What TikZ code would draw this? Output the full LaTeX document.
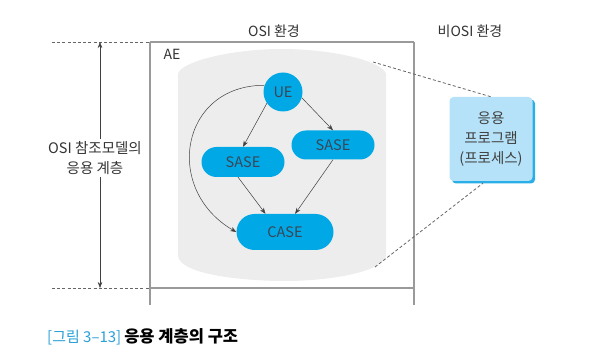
\documentclass[tikz,border=0pt]{standalone}
\usepackage{fontspec}
\setmainfont{Noto Sans CJK KR}
\usetikzlibrary{arrows.meta,shadows}
\definecolor{aeblue}{HTML}{00A9E6}
\definecolor{aegray}{HTML}{EDEDED}
\definecolor{framegray}{HTML}{9A9A9A}
\definecolor{progblue}{HTML}{B5E2F8}
\definecolor{progedge}{HTML}{2AAEE6}
\definecolor{capblue}{HTML}{2A9FD6}
\definecolor{inktext}{HTML}{3A4656}
\tikzset{
  txt/.style={font=\fontsize{14}{17}\selectfont, text=black!80},
  entity/.style={fill=aeblue, text=inktext, font=\fontsize{14.5}{17}\selectfont,
    rounded corners=#1, inner sep=0pt},
  flow/.style={draw=black!75, line width=0.5pt, -{Stealth[length=6pt,width=4.5pt]}},
  frameline/.style={draw=framegray, line width=1.1pt},
  guide/.style={draw=black!60, line width=0.8pt, dash pattern=on 3pt off 2.2pt}
}
\begin{document}
\begin{tikzpicture}[x=1pt,y=-1pt]
  \useasboundingbox (0,0) rectangle (592,358);
  % frame of the OSI environment
  \draw[frameline] (150,42) -- (414,42);
  \draw[frameline] (150,288) -- (414,288);
  \draw[frameline] (150,42) -- (150,305);
  \draw[frameline] (414,42) -- (414,305);
  \draw[guide] (52,42) -- (150,42);
  \draw[guide] (52,288) -- (150,288);
  \node[txt] (osienv) at (274,31) {OSI 환경};
  \node[txt] (nonosi) at (470,31) {비OSI 환경};
  % application layer span
  \coordinate (toptick) at (100,42);
  \coordinate (bottick) at (100,288);
  \node[txt, align=center, inner sep=2pt, font=\fontsize{14.5}{20}\selectfont] (osilayer) at (95,158) {OSI 참조모델의\\응용 계층};
  \draw[flow] (toptick |- osilayer.north) -- (toptick);
  \draw[flow] (bottick |- osilayer.south) -- (bottick);
  % AE region
  \fill[aegray] (178,74) .. controls (180,62) and (230,49) .. (282,49)
    .. controls (335,49) and (384,62) .. (386,74) -- (386,256)
    .. controls (382,272) and (330,281) .. (285,281)
    .. controls (240,281) and (180,274) .. (178,256) -- cycle;
  \coordinate (aetop) at (373,62);
  \coordinate (aebot) at (375,267);
  \node[txt, anchor=west] (ae) at (160,54) {AE};
  % entities
  \node[entity=19.5pt, circle, minimum size=39pt] (ue) at (283,92) {UE};
  \node[entity=15pt, minimum width=83pt, minimum height=30pt] (sase1) at (243,162) {SASE};
  \node[entity=14.5pt, minimum width=83pt, minimum height=29pt] (sase2) at (333,145) {SASE};
  \node[entity=18pt, minimum width=97pt, minimum height=36pt] (case) at (285,232) {CASE};
  \draw[flow] (ue.215) -- (sase1.north);
  \draw[flow] (ue.-17) -- (sase2.north);
  \draw[flow] (sase1.252) -- (case.137);
  \draw[flow] (sase2.south) -- (case.61);
  \draw[flow] (ue.160) to[out=180, in=150, looseness=1.45] (case.west);
  % application program
  \node[fill=progblue, rounded corners=4pt, minimum width=83pt, minimum height=84pt,
    drop shadow={shadow xshift=2.5pt, shadow yshift=-2.5pt, fill=progedge, opacity=1},
    align=center, text=black!75, font=\fontsize{14.5}{20}\selectfont] (prog) at (491,139)
    {응용\\프로그램\\(프로세스)};
  \draw[guide] (aetop) -- (prog.north);
  \draw[guide] (aebot) -- ([xshift=-8pt,yshift=-2pt]prog.south);
  % caption
  \node[anchor=west, inner sep=0pt] (caption) at (47,337)
    {\fontsize{15}{18}\selectfont\textcolor{capblue}{[그림 3–13]}\hspace{3pt}\fontsize{16.5}{18}\selectfont\textbf{응용 계층의 구조}};
\end{tikzpicture}
\end{document}
